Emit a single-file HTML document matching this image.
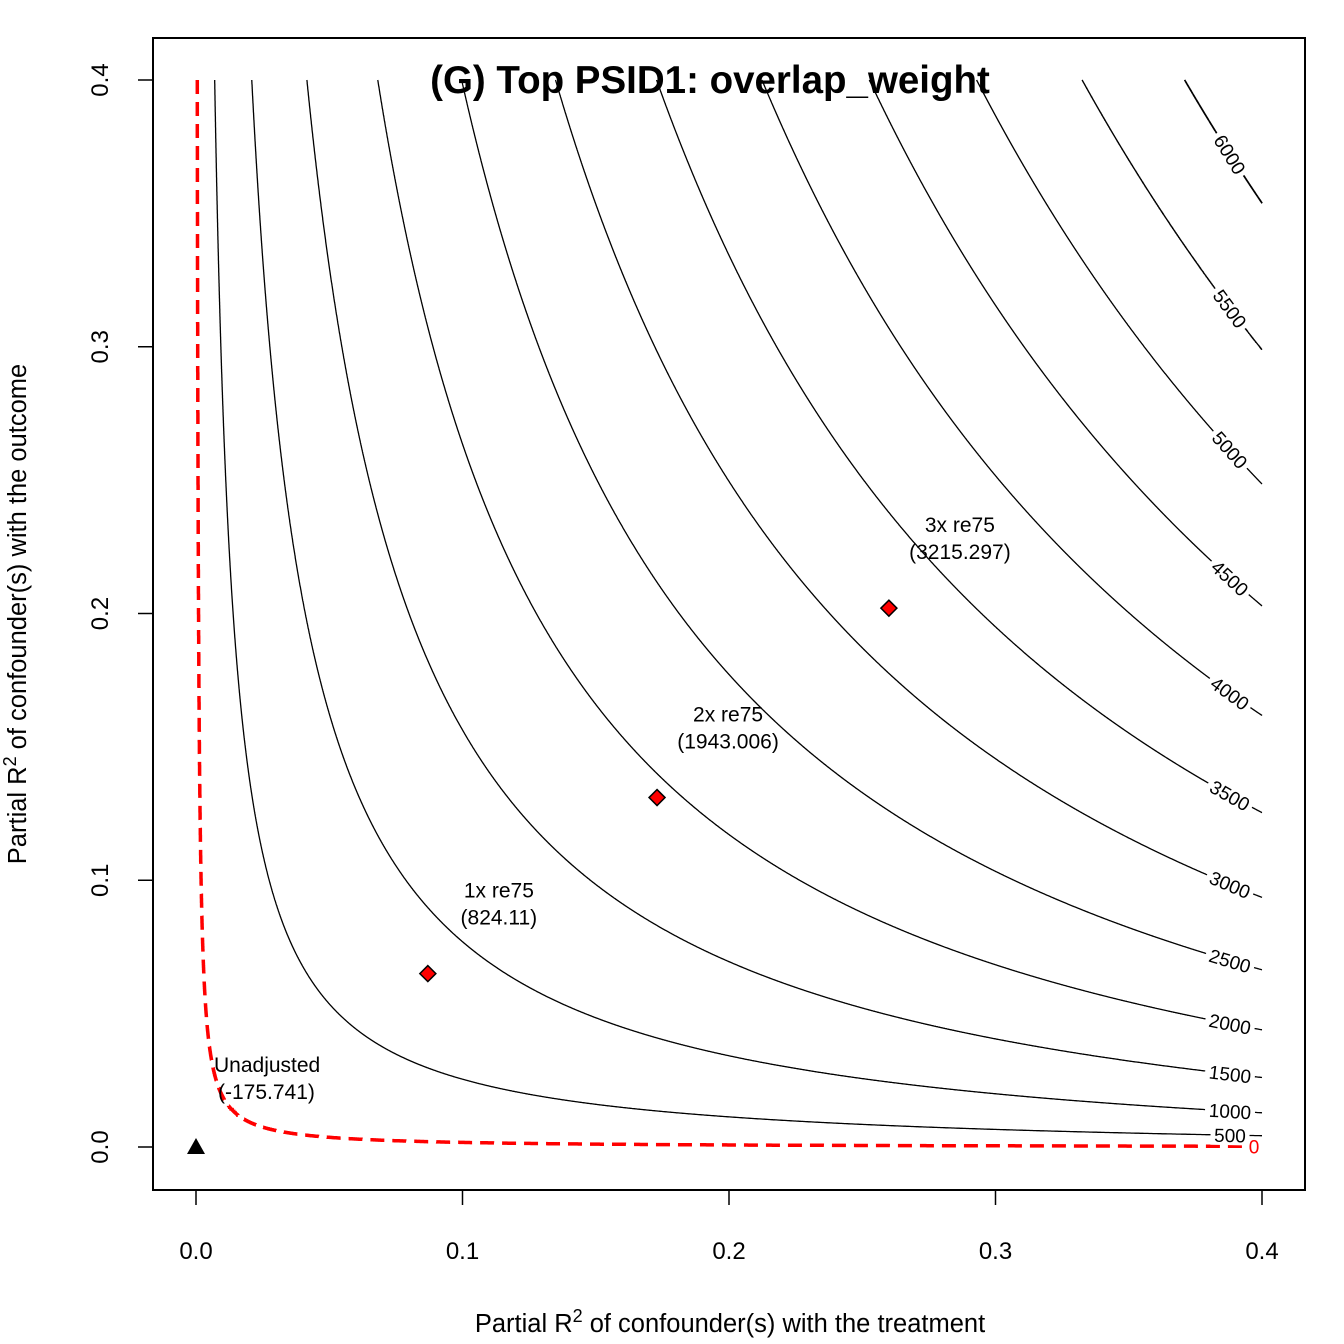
<!DOCTYPE html>
<html><head><meta charset="utf-8"><style>
html,body{margin:0;padding:0;background:#fff}
svg{display:block;font-family:"Liberation Sans",Arial,sans-serif}
</style></head><body>
<svg id="chart" width="1344" height="1344" viewBox="0 0 1344 1344" xmlns="http://www.w3.org/2000/svg">
<rect x="0" y="0" width="1344" height="1344" fill="#fff"/>
<g id="contours"></g>
<g id="marks"></g>
<rect x="153" y="38" width="1152" height="1152" fill="none" stroke="#000" stroke-width="2"/>
<g id="axes"></g>
<text x="710" y="93" font-size="38.5" font-weight="bold" text-anchor="middle">(G) Top PSID1: overlap_weight</text>
<text x="730" y="1332" font-size="25.5" text-anchor="middle">Partial R<tspan dy="-10" font-size="18">2</tspan><tspan dy="10"> of confounder(s) with the treatment</tspan></text>
<text transform="translate(26,614) rotate(-90)" font-size="25.5" text-anchor="middle">Partial R<tspan dy="-10" font-size="18">2</tspan><tspan dy="10"> of confounder(s) with the outcome</tspan></text>
</svg>
<script>
const levels = [0,500,1000,1500,2000,2500,3000,3500,4000,4500,5000,5500,6000];
const estimate = -175.741;
const biasScale = 12715;
const xTicks = [0,0.1,0.2,0.3,0.4];
const yTicks = [0,0.1,0.2,0.3,0.4];
const benchNames = ["1x re75","2x re75","3x re75"];
const benchRd = [0.087,0.173,0.26];
const benchRy = [0.065,0.131,0.202];
const benchVals = ["824.11","1943.006","3215.297"];

const NS="http://www.w3.org/2000/svg";
const X0=196,X1=1262,Y0=1147,Y1=80;
const sx=v=>X0+(X1-X0)*v/0.4;
const sy=v=>Y0-(Y0-Y1)*v/0.4;
function mk(tag,attrs,parent){const e=document.createElementNS(NS,tag);for(const k in attrs)e.setAttribute(k,attrs[k]);parent.appendChild(e);return e;}
const cg=document.getElementById('contours');
const mg=document.getElementById('marks');
const ag=document.getElementById('axes');
function ryOf(L,rd){const c=(L-estimate)/biasScale;return c*c*(1-rd)/rd;}

levels.forEach((L)=>{
  const red=L===0;
  const c=(L-estimate)/biasScale, c2=c*c;
  const rdStart=Math.min(0.4, c2/(0.4+c2)); // where ry = 0.4
  let pts=[];
  if(rdStart<0.4){
    const N=3000;
    for(let i=0;i<=N;i++){
      const t=i/N;
      const rd=rdStart*Math.pow(0.4/rdStart,t);
      const ry=ryOf(L,rd);
      pts.push([sx(rd),sy(Math.min(ry,0.4))]);
    }
  }
  const d="M"+pts.map(p=>p[0].toFixed(1)+","+p[1].toFixed(1)).join("L");
  const p=mk('path',{d:d,fill:'none',stroke:red?'#ff0000':'#000','stroke-width':red?3.5:1.3,'stroke-dasharray':red?'14,8':'none'},cg);
  
  
  const rdA=0.382,rdB=0.386;
  const xa=sx(rdA),ya=sy(ryOf(L,rdA)),xb=sx(rdB),yb=sy(ryOf(L,rdB));
  const ang=Math.atan2(yb-ya,xb-xa)*180/Math.PI;
  const lx=sx(red?0.397:0.388),ly=sy(ryOf(L,red?0.397:0.388));
  const g=mk('g',{transform:`translate(${lx},${ly}) rotate(${ang})`},cg);
  
  
  const w=String(L).length*11+6;
  mk('rect',{x:-w/2,y:-10,width:w,height:20,fill:'#fff'},g);
  const t=mk('text',{x:0,y:7,'font-size':19,'text-anchor':'middle',fill:red?'#ff0000':'#000'},g);
  t.textContent=L;
});

const tri=mk('path',{d:`M${sx(0)},${sy(0)-9}L${sx(0)+9},${sy(0)+7}L${sx(0)-9},${sy(0)+7}Z`,fill:'#000'},mg);


const ut=mk('text',{x:sx(0)+18,y:sy(0)-75,'font-size':21},mg);


ut.innerHTML='<tspan x="'+(sx(0)+18)+'">Unadjusted</tspan><tspan x="'+(sx(0)+22)+'" dy="27">('+estimate+')</tspan>';

benchRd.forEach((rd,i)=>{
  const cx=sx(rd),cy=sy(benchRy[i]);
  const dm=mk('path',{d:`M${cx},${cy-8}L${cx+8},${cy}L${cx},${cy+8}L${cx-8},${cy}Z`,fill:'#ff0000',stroke:'#000','stroke-width':1.5},mg);
  
  
  const tx=mk('text',{x:cx+71,y:cy-76,'font-size':21,'text-anchor':'middle'},mg);
  
  
  tx.innerHTML='<tspan x="'+(cx+71)+'">'+benchNames[i]+'</tspan><tspan x="'+(cx+71)+'" dy="27">('+benchVals[i]+')</tspan>';
});

xTicks.forEach(v=>{
  mk('line',{x1:sx(v),x2:sx(v),y1:1190,y2:1205,stroke:'#000','stroke-width':1.5},ag);
  const t=mk('text',{x:sx(v),y:1259,'font-size':24,'text-anchor':'middle'},ag);
  
  
  t.textContent=v.toFixed(1);
});
yTicks.forEach(v=>{
  mk('line',{x1:138,x2:153,y1:sy(v),y2:sy(v),stroke:'#000','stroke-width':1.5},ag);
  const t=mk('text',{transform:`translate(108,${sy(v)}) rotate(-90)`,'font-size':24,'text-anchor':'middle'},ag);
  
  
  t.textContent=v.toFixed(1);
});
</script>
</body></html>
